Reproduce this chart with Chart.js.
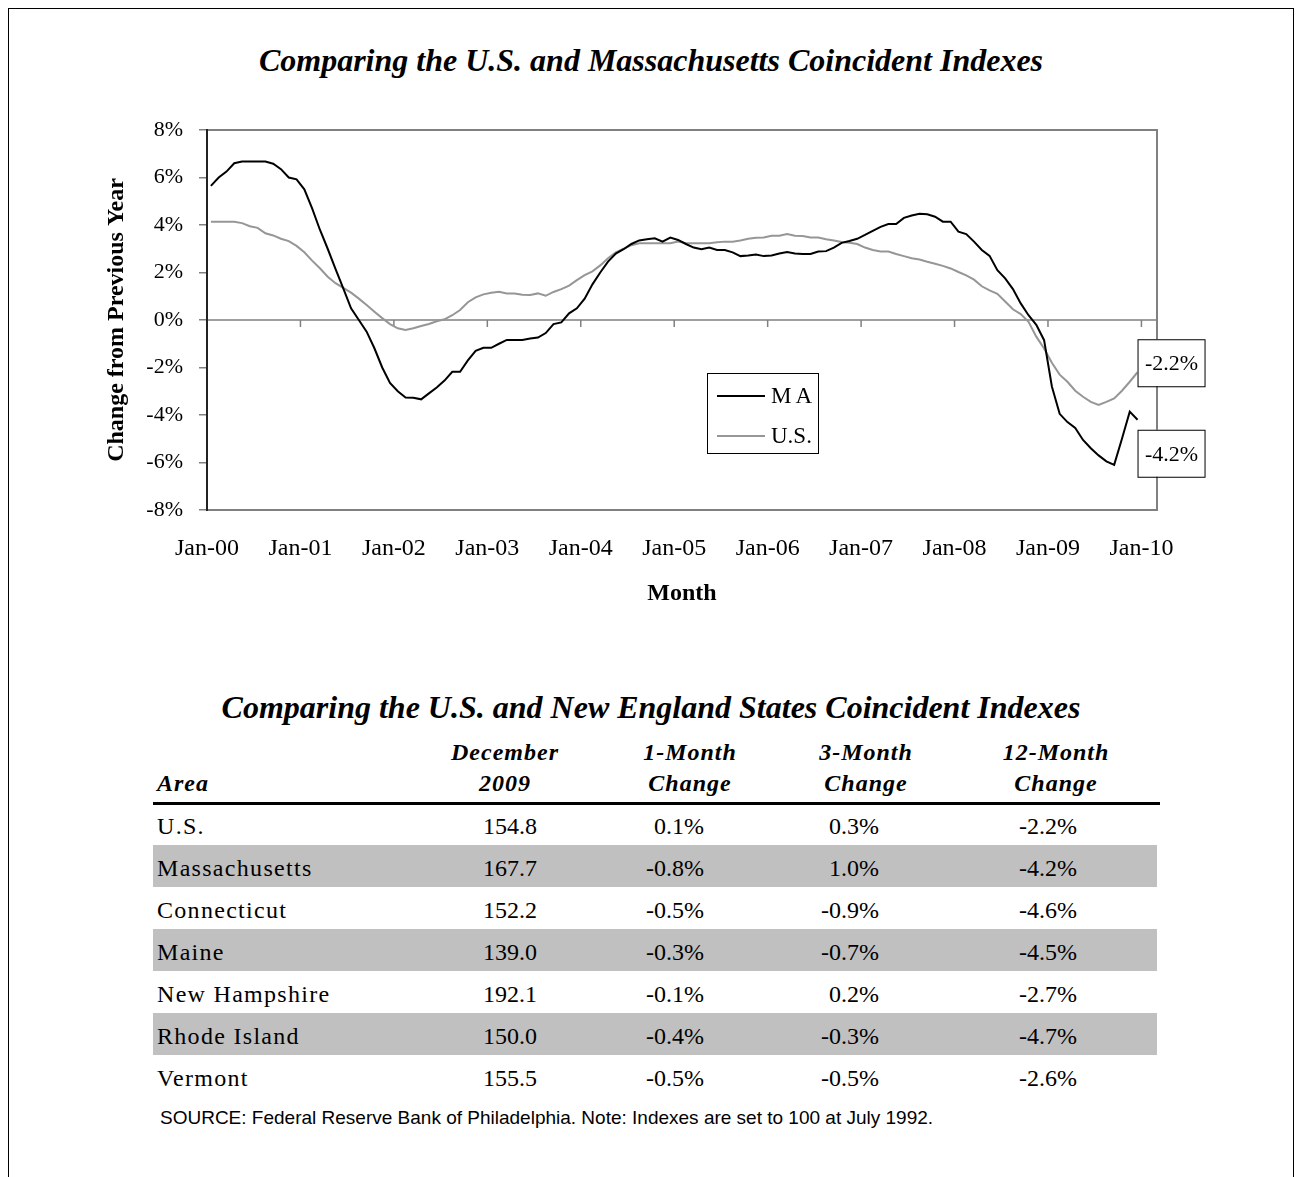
<!DOCTYPE html>
<html>
<head>
<meta charset="utf-8">
<script src="https://cdn.jsdelivr.net/npm/chart.js@4.4.1/dist/chart.umd.min.js"></script>
<style>
  body { margin: 0; background: #fff; font-family: 'Liberation Serif', 'Times New Roman', serif; color: #000; }
  #page { position: absolute; left: 0; top: 0; width: 1302px; height: 1177px; overflow: hidden; }
  #frame { position: absolute; left: 8px; top: 8px; width: 1284px; height: 1300px; border: 1px solid #000; border-bottom: none; }
  #chartBox { position: absolute; left: 0; top: 0; width: 1302px; height: 640px; }
  .t { position: absolute; white-space: nowrap; }
  .title { font-weight: bold; font-style: italic; font-size: 32px; text-align: center; width: 1302px; left: 0; line-height: 40px; }
  .hdr { font-weight: bold; font-style: italic; font-size: 24px; line-height: 30px; }
  .cell { font-size: 24px; line-height: 42px; height: 42px; }
</style>
</head>
<body>
<div id="page">
  <div id="frame"></div>
  <div class="t title" style="top:40px;">Comparing the U.S. and Massachusetts Coincident Indexes</div>
  <div id="chartBox"><canvas id="chart" width="1302" height="640"></canvas></div>
  <div class="t title" style="top:687px;">Comparing the U.S. and New England States Coincident Indexes</div>
  <div id="table"></div>
  <div class="t" style="left:160px; top:1107px; font-size:19px; font-family:'Liberation Sans', Arial, sans-serif;">SOURCE: Federal Reserve Bank of Philadelphia. Note: Indexes are set to 100 at July 1992.</div>
</div>

<script>
// series, % change from previous year, Jan-00 .. Dec-09
const maValues = [
  5.65, 6.0, 6.25, 6.6, 6.67, 6.67, 6.67, 6.67, 6.58, 6.35,
  6.0, 5.92, 5.5, 4.7, 3.8, 3.0, 2.15, 1.33, 0.49, 0.0,
  -0.49, -1.19, -2.0, -2.65, -3.0, -3.26, -3.27, -3.34, -3.09, -2.84,
  -2.55, -2.18, -2.18, -1.7, -1.3, -1.17, -1.17, -1.0, -0.84, -0.84,
  -0.84, -0.78, -0.74, -0.55, -0.17, -0.1, 0.28, 0.49, 0.9, 1.5,
  2.0, 2.46, 2.8, 2.98, 3.2, 3.35, 3.4, 3.44, 3.3, 3.47,
  3.37, 3.2, 3.05, 2.98, 3.05, 2.95, 2.95, 2.85, 2.69, 2.72,
  2.76, 2.69, 2.72, 2.8, 2.86, 2.8, 2.78, 2.78, 2.88, 2.9,
  3.05, 3.25, 3.33, 3.42, 3.58, 3.75, 3.92, 4.04, 4.04, 4.3,
  4.4, 4.47, 4.45, 4.35, 4.14, 4.14, 3.72, 3.62, 3.3, 2.95,
  2.7, 2.1, 1.75, 1.3, 0.7, 0.2, -0.2, -0.85, -2.8, -3.95,
  -4.3, -4.55, -5.05, -5.4, -5.7, -5.95, -6.1, -5.0, -3.86, -4.2
];
const usValues = [
  4.14, 4.14, 4.14, 4.14, 4.08, 3.95, 3.88, 3.65, 3.56, 3.42,
  3.32, 3.12, 2.85, 2.5, 2.18, 1.82, 1.55, 1.35, 1.15, 0.9,
  0.63, 0.35, 0.08, -0.17, -0.35, -0.42, -0.35, -0.25, -0.17, -0.05,
  0.03, 0.2, 0.42, 0.75, 0.95, 1.08, 1.15, 1.19, 1.12, 1.12,
  1.06, 1.05, 1.12, 1.02, 1.18, 1.3, 1.45, 1.68, 1.89, 2.05,
  2.3, 2.6, 2.85, 3.0, 3.15, 3.23, 3.23, 3.23, 3.23, 3.23,
  3.3, 3.23, 3.23, 3.23, 3.23, 3.27, 3.3, 3.3, 3.35, 3.42,
  3.46, 3.47, 3.55, 3.55, 3.62, 3.55, 3.54, 3.47, 3.47, 3.4,
  3.35, 3.28, 3.25, 3.2, 3.05, 2.95, 2.88, 2.88, 2.78, 2.69,
  2.6, 2.55, 2.45, 2.37, 2.28, 2.17, 2.02, 1.88, 1.7, 1.42,
  1.25, 1.1, 0.78, 0.45, 0.25, -0.08, -0.7, -1.2, -1.8, -2.3,
  -2.6, -2.98, -3.23, -3.45, -3.58, -3.45, -3.3, -2.98, -2.6, -2.2
];
const monthNames = ['Jan','Feb','Mar','Apr','May','Jun','Jul','Aug','Sep','Oct','Nov','Dec'];
const years = ['00','01','02','03','04','05','06','07','08','09','10'];
const seriesNames = ['MA', 'U.S.'];

// table data
const areas = ['U.S.', 'Massachusetts', 'Connecticut', 'Maine', 'New Hampshire', 'Rhode Island', 'Vermont'];
const dec2009 = ['154.8', '167.7', '152.2', '139.0', '192.1', '150.0', '155.5'];
const oneMonth = ['0.1%', '-0.8%', '-0.5%', '-0.3%', '-0.1%', '-0.4%', '-0.5%'];
const threeMonth = ['0.3%', '1.0%', '-0.9%', '-0.7%', '0.2%', '-0.3%', '-0.5%'];
const twelveMonth = ['-2.2%', '-4.2%', '-4.6%', '-4.5%', '-2.7%', '-4.7%', '-2.6%'];

// labels of the category axis (Jan-00 .. Feb-10, last two empty)
const months = [];
years.forEach(y => monthNames.forEach(m => months.push(m + '-' + y)));
months.length = 122;

const serif = "'Liberation Serif', 'Times New Roman', serif";

// frame, zero line with its ticks
const framePlugin = {
  id: 'frame',
  beforeDatasetsDraw(chart) {
    const { ctx, chartArea: a, scales: { x, y } } = chart;
    ctx.save();
    ctx.strokeStyle = '#808080';
    ctx.lineWidth = 2;
    ctx.beginPath();
    ctx.moveTo(a.left, a.top); ctx.lineTo(a.right, a.top);
    ctx.lineTo(a.right, a.bottom); ctx.lineTo(a.left, a.bottom);
    ctx.stroke();
    const y0 = y.getPixelForValue(0);
    const step = x.getPixelForValue(1) - x.getPixelForValue(0);
    ctx.lineWidth = 1.5;
    ctx.beginPath();
    ctx.moveTo(a.left, y0); ctx.lineTo(a.right, y0);
    for (let i = 12; i <= 120; i += 12) {
      const px = x.getPixelForValue(i) - step / 2;
      ctx.moveTo(px, y0); ctx.lineTo(px, y0 + 7);
    }
    ctx.stroke();
    ctx.strokeStyle = '#222';
    ctx.lineWidth = 2;
    ctx.beginPath();
    ctx.moveTo(a.left, a.top - 1); ctx.lineTo(a.left, a.bottom + 1);
    ctx.stroke();
    ctx.restore();
  }
};

// legend box and end-of-line value boxes
const boxesPlugin = {
  id: 'boxes',
  afterDatasetsDraw(chart) {
    const { ctx, chartArea: a } = chart;
    ctx.save();
    // legend
    const lx = a.left + 500, ly = a.top + 243;
    ctx.fillStyle = '#fff';
    ctx.fillRect(lx, ly, 111, 80);
    ctx.strokeStyle = '#000';
    ctx.lineWidth = 1;
    ctx.strokeRect(lx + 0.5, ly + 0.5, 111, 80);
    ctx.font = '23px ' + serif;
    ctx.textBaseline = 'middle';
    chart.data.datasets.forEach((ds, i) => {
      const yy = ly + 23 + i * 40;
      ctx.strokeStyle = ds.borderColor;
      ctx.lineWidth = 2;
      ctx.beginPath();
      ctx.moveTo(lx + 10, yy); ctx.lineTo(lx + 58, yy);
      ctx.stroke();
      ctx.fillStyle = '#000';
      ctx.textAlign = 'left';
      ctx.letterSpacing = i === 0 ? '4px' : '0px';
      ctx.fillText(ds.label, lx + 64, yy + 1);
    });
    ctx.letterSpacing = '0px';
    // value boxes
    const shifts = [33, -10];
    chart.data.datasets.forEach((ds, i) => {
      const meta = chart.getDatasetMeta(i);
      const last = meta.data[ds.data.length - 1];
      const v = ds.data[ds.data.length - 1];
      const bx = last.x, by = last.y + shifts[i] - 23;
      ctx.fillStyle = '#fff';
      ctx.fillRect(bx, by, 67, 47);
      ctx.strokeStyle = '#000';
      ctx.lineWidth = 1;
      ctx.strokeRect(bx + 0.5, by + 0.5, 67, 47);
      ctx.fillStyle = '#000';
      ctx.textAlign = 'center';
      ctx.font = '22px ' + serif;
      ctx.fillText(v.toFixed(1) + '%', bx + 34, by + 25);
    });
    ctx.restore();
  }
};

const ctx = document.getElementById('chart').getContext('2d');
const chart = new Chart(ctx, {
  type: 'line',
  data: {
    labels: months,
    datasets: [
      { label: seriesNames[0], data: maValues, borderColor: '#000', borderWidth: 2, pointRadius: 0, tension: 0 },
      { label: seriesNames[1], data: usValues, borderColor: '#969696', borderWidth: 2, pointRadius: 0, tension: 0 }
    ]
  },
  options: {
    responsive: false,
    animation: false,
    layout: { padding: { top: 130, right: 145, left: 0, bottom: 0 } },
    plugins: { legend: { display: false }, tooltip: { enabled: false } },
    scales: {
      x: {
        type: 'category',
        offset: true,
        grid: { display: false, drawTicks: false },
        border: { display: false },
        ticks: {
          autoSkip: false, maxRotation: 0, minRotation: 0, padding: 24,
          labelOffset: -3.9,
          color: '#000', font: { family: serif, size: 24 },
          callback: function (v, i) { return i % 12 === 0 ? this.getLabelForValue(v) : null; }
        },
        title: { display: true, text: 'Month', color: '#000', font: { family: serif, size: 24, weight: 'bold' }, padding: { top: 0, bottom: 32 } },
        afterFit: s => { s.height = 130; }
      },
      y: {
        min: -8, max: 8,
        grid: { display: true, drawOnChartArea: false, drawTicks: true, tickLength: 8, color: '#808080', lineWidth: 1.5 },
        border: { display: false },
        ticks: {
          stepSize: 2, padding: 16, color: '#000', font: { family: serif, size: 22 },
          callback: v => v + '%'
        },
        title: { display: true, text: 'Change from Previous Year', color: '#000', font: { family: serif, size: 24, weight: 'bold' }, padding: { top: 102, bottom: 0 } },
        afterFit: s => { s.width = 207; }
      }
    }
  },
  plugins: [framePlugin, boxesPlugin]
});

// table
const table = document.getElementById('table');
function put(cls, text, left, top, width, align, extra) {
  const d = document.createElement('div');
  d.className = 't ' + cls;
  d.textContent = text;
  d.style.left = left + 'px';
  d.style.top = top + 'px';
  if (width) { d.style.width = width + 'px'; d.style.textAlign = align; }
  if (extra) Object.assign(d.style, extra);
  table.appendChild(d);
}
// header
const hdrCenters = [505, 690, 866, 1056];
const hdr1 = ['December', '1-Month', '3-Month', '12-Month'];
const hdr2 = ['2009', 'Change', 'Change', 'Change'];
hdr1.forEach((h, i) => put('hdr', h, hdrCenters[i] - 100, 737, 200, 'center', { letterSpacing: '1px' }));
hdr2.forEach((h, i) => put('hdr', h, hdrCenters[i] - 100, 768, 200, 'center', { letterSpacing: '1px' }));
put('hdr', 'Area', 157, 768, 0, '', { letterSpacing: '1px' });
const rule = document.createElement('div');
rule.style.cssText = 'position:absolute;left:153px;top:802px;width:1007px;height:3px;background:#000;';
table.appendChild(rule);
// rows
const colRights = [537, 704, 879, 1077];
areas.forEach((a, r) => {
  const top = 803 + r * 42;
  if (r % 2 === 1) {
    const band = document.createElement('div');
    band.style.cssText = `position:absolute;left:153px;top:${top}px;width:1004px;height:42px;background:#c0c0c0;`;
    table.appendChild(band);
  }
  put('cell', a, 157, top + 2, 0, '', { letterSpacing: '1.3px' });
  [dec2009, oneMonth, threeMonth, twelveMonth].forEach((col, c) => {
    put('cell', col[r], colRights[c] - 150, top + 2, 150, 'right');
  });
});
</script>
</body>
</html>
